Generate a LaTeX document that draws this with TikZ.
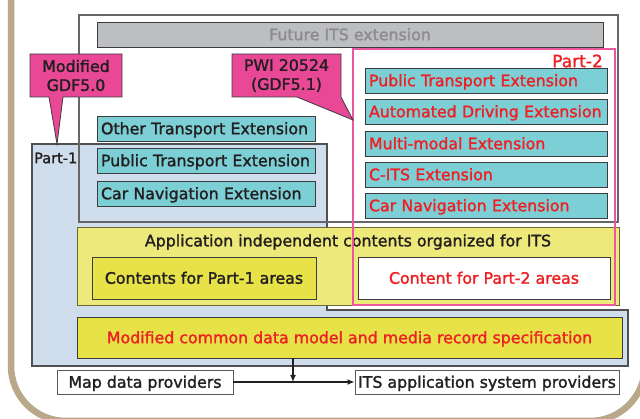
\documentclass[tikz,border=0pt]{standalone}
\usepackage{fontspec}
\setmainfont{DejaVu Sans}
\newfontfamily\medfont{DejaVu Sans}[FakeBold=1.6]
\usetikzlibrary{arrows.meta}

\definecolor{tanframe}{RGB}{185,168,138}
\definecolor{callpink}{RGB}{233,72,150}
\definecolor{parttwo}{RGB}{236,88,160}
\definecolor{itsred}{RGB}{237,32,36}
\definecolor{tealbox}{RGB}{125,207,214}
\definecolor{partone}{RGB}{208,221,236}
\definecolor{appyellow}{RGB}{237,233,122}
\definecolor{cntyellow}{RGB}{230,226,72}
\definecolor{futuregray}{RGB}{188,190,192}
\definecolor{futuretext}{RGB}{140,140,142}
\definecolor{darktext}{RGB}{35,31,32}
\definecolor{boxline}{RGB}{60,60,62}

\tikzset{
  ext/.style={draw=boxline, fill=tealbox, line width=0.9pt, inner xsep=4pt, inner ysep=0pt,
    minimum height=25pt, text width=#1, align=left, text height=11.5pt, text depth=0pt},
  plain/.style={draw=boxline, line width=0.9pt, inner sep=0pt, text height=11.5pt, text depth=0pt},
  callout/.style={draw=boxline, fill=callpink, line width=0.8pt, line join=miter},
  link/.style={line width=1.6pt, darktext, -{Latex[length=7pt,width=6pt]}}
}

\begin{document}
\begin{tikzpicture}[x=1pt, y=-1pt, font=\medfont\fontsize{15.8}{19}\selectfont, text=darktext]
\useasboundingbox (0,0) rectangle (640,419);

% outer frame
\draw [tanframe, line width=6.5pt, rounded corners=55pt] (11,-30) -- (11,421) -- (645,421) -- (645,-30);

% Part-1 area
\draw [fill=partone, draw=boxline!90, line width=1.1pt]
  (32,144) -- (327,144) -- (327,310) -- (628,310) -- (628,366) -- (32,366) -- cycle;
\node [anchor=west, font=\medfont\fontsize{14.5}{17}\selectfont, inner sep=0pt] (pone) at (34,158) {Part-1};

% ITS extension area
\draw [draw=black!60, line width=1.1pt] (79,15) rectangle (618,222);
\node [plain, fill=futuregray, text=futuretext, minimum width=506pt, minimum height=25pt]
  (future) at (350,34.5) {Future ITS extension};

% Part-1 extensions
\foreach \y/\txt [count=\i] in {128.5/Other Transport Extension, 160.5/Public Transport Extension,
  193.5/Car Navigation Extension}
  \node [ext=210pt] (pext\i) at (206,\y) {\txt};

% Part-2 extensions
\foreach \y/\txt [count=\i] in {80.5/Public Transport Extension, 111.5/Automated Driving Extension,
  143.5/Multi-modal Extension, 174.5/C-ITS Extension, 205.5/Car Navigation Extension}
  \node [ext=234pt, text=itsred] (qext\i) at (486,\y) {\txt};

% application independent contents
\node [plain, fill=appyellow, draw=black!55!appyellow, minimum width=542pt, minimum height=78pt]
  (appbox) at (348,266) {};
\node (apptitle) at (348,242) {Application independent contents organized for ITS};
\node [plain, fill=cntyellow, minimum width=224pt, minimum height=42pt]
  (cone) at (204,278) {Contents for Part-1 areas};
\node [plain, fill=white, text=itsred, minimum width=252pt, minimum height=42pt]
  (ctwo) at (484,278) {Content for Part-2 areas};

% Part-2 area
\draw [parttwo, line width=1.2pt] (353,49) rectangle (615,305);
\node [anchor=east, text=itsred, font=\medfont\fontsize{17}{20}\selectfont, inner sep=0pt] (ptwo) at (603,61) {Part-2};

% common data model
\node [plain, fill=cntyellow, text=itsred, minimum width=545pt, minimum height=41pt]
  (cdm) at (349.5,337.5) {Modified common data model and media record specification};

% callouts
\draw [callout] (30,54) -- (122,54) -- (122,97) -- (63,97) -- (57,144) -- (49,97) -- (30,97) -- cycle;
\node [align=center] (gdfold) at (76,75.5) {Modified\\GDF5.0};
\draw [callout] (232,54) -- (341,54) -- (341,97) -- (353,120) -- (297,97) -- (232,97) -- cycle;
\node [align=center] (gdfnew) at (286.5,75.5) {PWI 20524\\(GDF5.1)};

% providers
\node [plain, draw=black!65, fill=white, minimum width=176pt, minimum height=24pt] (mapdp) at (145,382) {Map data providers};
\node [plain, draw=black!65, fill=white, minimum width=264pt, minimum height=24pt] (itsap) at (487,382) {ITS application system providers};
\coordinate (tee) at (293,382);
\draw [link] (mapdp.east) -- (itsap.west);
\draw [link] (cdm.south -| tee) -- (tee);
\end{tikzpicture}
\end{document}
